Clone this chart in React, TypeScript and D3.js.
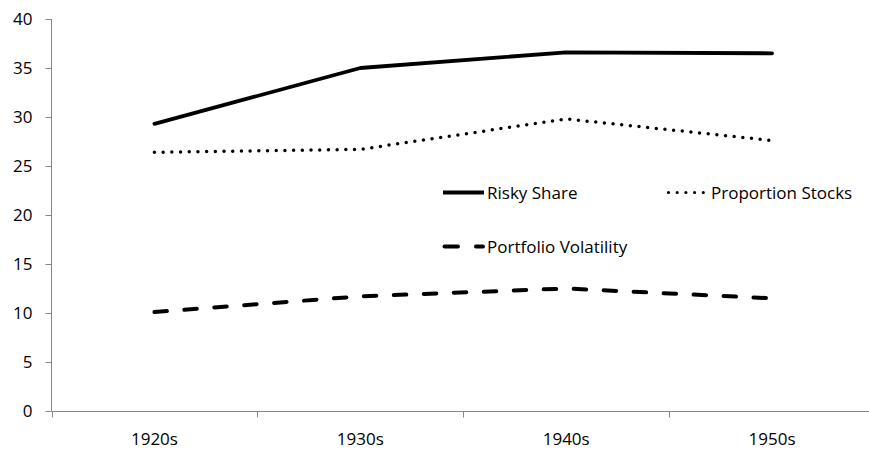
import React, { useEffect, useRef } from "react";
import * as d3 from "d3";

const decades = ["1920s", "1930s", "1940s", "1950s"];
const riskyShare = [29.3, 35.0, 36.6, 36.5];
const proportionStocks = [26.4, 26.7, 29.8, 27.6];
const portfolioVolatility = [10.1, 11.7, 12.5, 11.5];
const yTicks = [0, 5, 10, 15, 20, 25, 30, 35, 40];

const W = 869;
const H = 451;
const FONT = "'Open Sans', sans-serif";

export default function App() {
  const ref = useRef<SVGSVGElement>(null);

  useEffect(() => {
    const svg = d3.select(ref.current);
    svg.selectAll("*").remove();

    const left = 51.5;
    const x = d3.scaleBand<string>().domain(decades).range([left, 875]);
    const y = d3.scaleLinear().domain([0, 40]).range([411, 19]);
    const cx = (d: string) => (x(d) as number) + x.bandwidth() / 2;

    const axisColor = "#868686";

    // y axis
    const ya = svg.append("g").attr("transform", `translate(${left},0)`);
    ya.append("line").attr("y1", y(40)).attr("y2", y(0)).attr("stroke", axisColor);
    yTicks.forEach(t => {
      ya.append("line").attr("x1", -6).attr("x2", 0).attr("y1", y(t) + 0.5).attr("y2", y(t) + 0.5).attr("stroke", axisColor);
      ya.append("text")
        .attr("x", -19)
        .attr("y", y(t))
        .attr("dy", "0.36em")
        .attr("text-anchor", "end")
        .style("font-family", FONT)
        .style("font-size", "17px")
        .attr("fill", "#000")
        .text(t);
    });

    // x axis
    const xa = svg.append("g").attr("transform", `translate(0,${y(0) + 0.5})`);
    xa.append("line").attr("x1", left).attr("x2", W).attr("stroke", axisColor);
    decades.forEach(d => {
      const bx = Math.round(x(d) as number) + 0.5;
      xa.append("line").attr("x1", bx).attr("x2", bx).attr("y1", 0).attr("y2", 6).attr("stroke", axisColor);
      xa.append("text")
        .attr("x", cx(d))
        .attr("y", 33.5)
        .attr("text-anchor", "middle")
        .style("font-family", FONT)
        .style("font-size", "17px")
        .attr("fill", "#000")
        .text(d);
    });

    const line = d3.line<number>().x((_, i) => cx(decades[i])).y(v => y(v));

    const series = [
      { name: "Risky Share", values: riskyShare, dash: null, width: 3.8 },
      { name: "Proportion Stocks", values: proportionStocks, dash: "0 8.7", width: 3.5 },
      { name: "Portfolio Volatility", values: portfolioVolatility, dash: "12.5 17.5", width: 4 },
    ];

    series.forEach(s => {
      svg.append("path")
        .attr("d", line(s.values))
        .attr("fill", "none")
        .attr("stroke", "#000")
        .attr("stroke-width", s.width)
        .attr("stroke-linecap", "round")
        .attr("stroke-linejoin", "round")
        .attr("stroke-dasharray", s.dash);
    });

    // legend
    const legendPos = [
      { x: 443, y: 192.5 },
      { x: 667, y: 192.5 },
      { x: 443, y: 246.5 },
    ];
    series.forEach((s, i) => {
      const p = legendPos[i];
      const g = svg.append("g").attr("transform", `translate(${p.x},${p.y})`);
      if (s.name === "Portfolio Volatility") {
        g.append("line").attr("x1", 1.5).attr("x2", 15).attr("stroke", "#000").attr("stroke-width", 4).attr("stroke-linecap", "round");
        g.append("line").attr("x1", 33).attr("x2", 40).attr("stroke", "#000").attr("stroke-width", 4).attr("stroke-linecap", "round");
      } else if (s.name === "Proportion Stocks") {
        g.append("line").attr("x1", 1.5).attr("x2", 40).attr("stroke", "#000").attr("stroke-width", 3.2)
          .attr("stroke-linecap", "round").attr("stroke-dasharray", "0 8.7");
      } else {
        g.append("line").attr("x1", 0).attr("x2", 41).attr("stroke", "#000").attr("stroke-width", 4);
      }
      g.append("text")
        .attr("x", 44)
        .attr("dy", "0.36em")
        .style("font-family", FONT)
        .style("font-size", "17px")
        .attr("fill", "#000")
        .text(s.name);
    });
  }, []);

  return (
    <svg
      ref={ref}
      width={W}
      height={H}
      style={{ position: "absolute", left: 0, top: 0, background: "#fff" }}
    />
  );
}
